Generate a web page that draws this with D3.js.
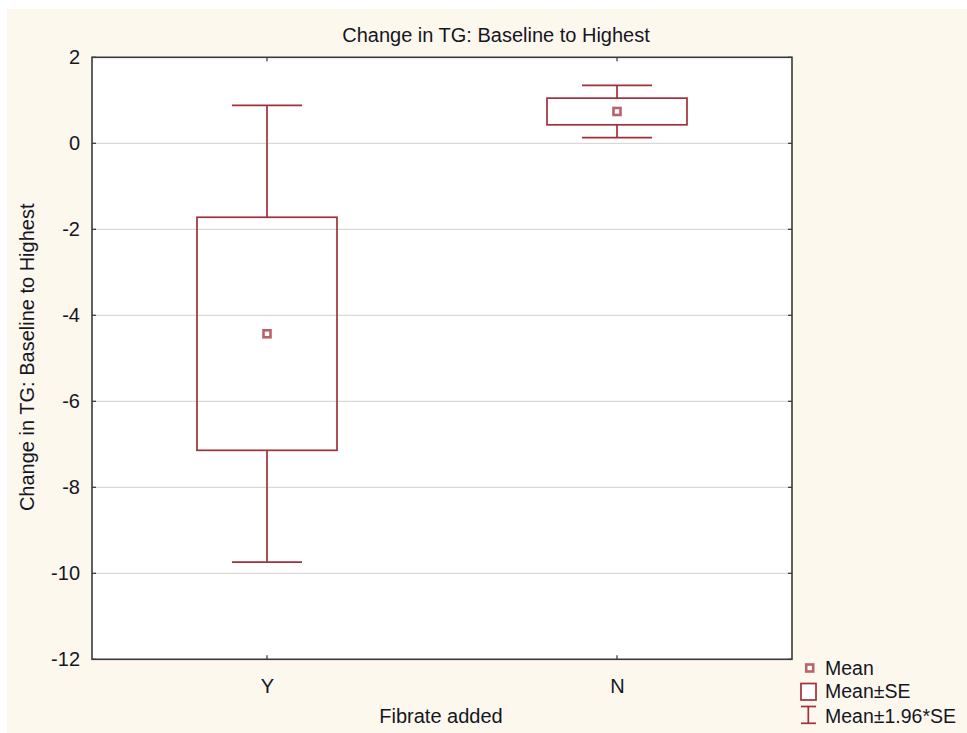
<!DOCTYPE html>
<html>
<head>
<meta charset="utf-8">
<script src="https://cdn.jsdelivr.net/npm/d3@7"></script>
<style>
  html, body { margin: 0; padding: 0; background: #ffffff; }
  svg { display: block; }
  text { font-family: "Liberation Sans", Arial, sans-serif; fill: #16161e; }
</style>
</head>
<body>
<svg id="chart" width="967" height="733"></svg>
<script>
// Groups and summary statistics (mean and standard error per group)
const categories = ["Y", "N"];
const means = [-4.43, 0.74];
const stdErrors = [2.71, 0.31];
const yTicks = [2, 0, -2, -4, -6, -8, -10, -12];
const legendLabels = ["Mean", "Mean\u00b1SE", "Mean\u00b11.96*SE"];

const titleText = "Change in TG: Baseline to Highest";
const yLabelText = "Change in TG: Baseline to Highest";
const xLabelText = "Fibrate added";

const W = 967, H = 733;
const plot = { left: 92, right: 792, top: 57.3, bottom: 659.3 };
const markColor = "#a0303a";
const meanColor = "#b8636a";

const svg = d3.select("#chart");

// Panel background
svg.append("rect")
  .attr("x", 7).attr("y", 9)
  .attr("width", W - 7).attr("height", H - 9)
  .attr("fill", "#fdf8ee");

const x = d3.scalePoint().domain(categories).range([plot.left, plot.right]).padding(0.5);
const y = d3.scaleLinear().domain([-12, 2]).range([plot.bottom, plot.top]);

// Plot area
svg.append("rect")
  .attr("x", plot.left).attr("y", plot.top)
  .attr("width", plot.right - plot.left).attr("height", plot.bottom - plot.top)
  .attr("fill", "#ffffff");

// Horizontal grid lines
svg.append("g")
  .selectAll("line")
  .data(yTicks.filter(t => t > -12 && t < 2))
  .join("line")
  .attr("x1", plot.left).attr("x2", plot.right)
  .attr("y1", d => y(d)).attr("y2", d => y(d))
  .attr("stroke", "#d9d9d9").attr("stroke-width", 1.2);

// Left axis with labels; inward tick marks on both sides
const yAxis = d3.axisLeft(y).tickValues(yTicks).tickSize(0).tickPadding(12).tickFormat(d3.format("d"));
const gy = svg.append("g").attr("transform", `translate(${plot.left},0)`).call(yAxis);
gy.select(".domain").remove();
gy.selectAll("text")
  .attr("font-size", 20)
  .attr("font-family", "Liberation Sans, Arial, sans-serif")
  .attr("fill", "#16161e")
  .text(d => d < 0 ? "-" + Math.abs(d) : d);

const tickLen = 4;
svg.append("g").selectAll("line")
  .data(yTicks)
  .join("line")
  .attr("x1", plot.left).attr("x2", plot.left + tickLen)
  .attr("y1", d => y(d)).attr("y2", d => y(d))
  .attr("stroke", "#333").attr("stroke-width", 1.2);
svg.append("g").selectAll("line")
  .data(yTicks)
  .join("line")
  .attr("x1", plot.right).attr("x2", plot.right - tickLen)
  .attr("y1", d => y(d)).attr("y2", d => y(d))
  .attr("stroke", "#333").attr("stroke-width", 1.2);

// Bottom axis with category labels
const xAxis = d3.axisBottom(x).tickSize(0).tickPadding(20);
const gx = svg.append("g").attr("transform", `translate(0,${plot.bottom})`).call(xAxis);
gx.select(".domain").remove();
gx.selectAll("text")
  .attr("font-size", 20)
  .attr("font-family", "Liberation Sans, Arial, sans-serif")
  .attr("fill", "#16161e");

svg.append("g").selectAll("line")
  .data(categories)
  .join("line")
  .attr("x1", d => x(d)).attr("x2", d => x(d))
  .attr("y1", plot.bottom).attr("y2", plot.bottom - tickLen)
  .attr("stroke", "#333").attr("stroke-width", 1.2);
svg.append("g").selectAll("line")
  .data(categories)
  .join("line")
  .attr("x1", d => x(d)).attr("x2", d => x(d))
  .attr("y1", plot.top).attr("y2", plot.top + tickLen)
  .attr("stroke", "#333").attr("stroke-width", 1.2);

// Box / whisker marks
const groups = categories.map((c, i) => ({
  cat: c,
  mean: means[i],
  se: stdErrors[i]
}));
const boxW = x.step() * 0.4;
const capW = boxW / 2;

const g = svg.append("g").selectAll("g").data(groups).join("g");

// whisker stems: mean±1.96*SE outside the box
g.append("line")
  .attr("x1", d => x(d.cat)).attr("x2", d => x(d.cat))
  .attr("y1", d => y(d.mean + 1.96 * d.se)).attr("y2", d => y(d.mean + d.se))
  .attr("stroke", markColor).attr("stroke-width", 1.7);
g.append("line")
  .attr("x1", d => x(d.cat)).attr("x2", d => x(d.cat))
  .attr("y1", d => y(d.mean - d.se)).attr("y2", d => y(d.mean - 1.96 * d.se))
  .attr("stroke", markColor).attr("stroke-width", 1.7);
// whisker caps
[1.96, -1.96].forEach(k => {
  g.append("line")
    .attr("x1", d => x(d.cat) - capW / 2).attr("x2", d => x(d.cat) + capW / 2)
    .attr("y1", d => y(d.mean + k * d.se)).attr("y2", d => y(d.mean + k * d.se))
    .attr("stroke", markColor).attr("stroke-width", 1.7);
});
// SE box
g.append("rect")
  .attr("x", d => x(d.cat) - boxW / 2)
  .attr("y", d => y(d.mean + d.se))
  .attr("width", boxW)
  .attr("height", d => y(d.mean - d.se) - y(d.mean + d.se))
  .attr("fill", "none")
  .attr("stroke", markColor).attr("stroke-width", 1.7);
// mean marker
g.append("rect")
  .attr("x", d => x(d.cat) - 3.5).attr("y", d => y(d.mean) - 3.5)
  .attr("width", 7).attr("height", 7)
  .attr("fill", "#ffffff")
  .attr("stroke", meanColor).attr("stroke-width", 2.6);

// Plot frame
svg.append("rect")
  .attr("x", plot.left).attr("y", plot.top)
  .attr("width", plot.right - plot.left).attr("height", plot.bottom - plot.top)
  .attr("fill", "none")
  .attr("stroke", "#3a3a3a").attr("stroke-width", 1.6);

// Title (centred on the panel) and axis titles
svg.append("text")
  .attr("x", 496).attr("y", 41.5)
  .attr("text-anchor", "middle").attr("font-size", 20)
  .text(titleText);

svg.append("text")
  .attr("transform", `translate(33.5,${(plot.top + plot.bottom) / 2 - 1}) rotate(-90)`)
  .attr("text-anchor", "middle").attr("font-size", 20)
  .text(yLabelText);

svg.append("text")
  .attr("x", (plot.left + plot.right) / 2 - 1).attr("y", 723)
  .attr("text-anchor", "middle").attr("font-size", 20)
  .text(xLabelText);

// Legend
const legend = svg.append("g");
const lgTextX = 825;
const lgBase = [675, 698.3, 723.3];
legend.append("rect")
  .attr("x", 806.2).attr("y", 664.5).attr("width", 7).attr("height", 7)
  .attr("fill", "#ffffff").attr("stroke", meanColor).attr("stroke-width", 2.6);
legend.append("rect")
  .attr("x", 801).attr("y", 683.5).attr("width", 15).attr("height", 16.5)
  .attr("fill", "#ffffff").attr("stroke", markColor).attr("stroke-width", 1.7);
legend.append("line")
  .attr("x1", 808.3).attr("x2", 808.3).attr("y1", 706.5).attr("y2", 723.3)
  .attr("stroke", markColor).attr("stroke-width", 1.7);
[706.5, 723.3].forEach(yy => {
  legend.append("line")
    .attr("x1", 801).attr("x2", 816).attr("y1", yy).attr("y2", yy)
    .attr("stroke", markColor).attr("stroke-width", 1.7);
});
legend.selectAll("text.lg")
  .data(legendLabels)
  .join("text")
  .attr("class", "lg")
  .attr("x", lgTextX)
  .attr("y", (d, i) => lgBase[i])
  .attr("font-size", 19.5)
  .text(d => d);
</script>
</body>
</html>
